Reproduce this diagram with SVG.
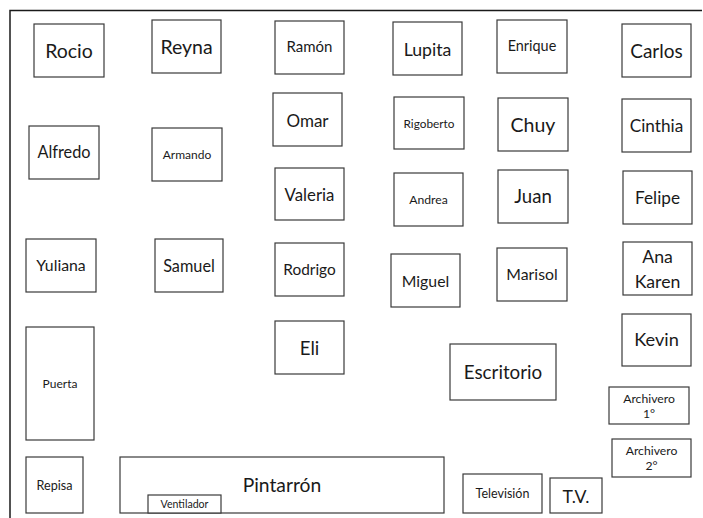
<svg xmlns="http://www.w3.org/2000/svg" width="703" height="518" viewBox="0 0 703 518">
<style>
rect.b{fill:#fff;stroke:#3a3a3a;stroke-width:1.2}
text{font-family:Lato,"Open Sans","Liberation Sans",sans-serif;fill:#1a1a1a;text-anchor:middle}
.frame{fill:none;stroke:#1a1a1a;stroke-width:1.5}
</style>
<rect width="703" height="518" fill="#fff"/>
<g id="frame"><path class="frame" d="M10,518 V10.5 H702"/></g>
<g id="connectors"></g>
<g id="rocio"><rect class="b" x="34" y="24" width="70" height="53"/><text x="69" y="57.5" font-size="19.5">Rocio</text></g>
<g id="reyna"><rect class="b" x="152" y="20" width="69" height="53"/><text x="186.5" y="53.5" font-size="19.5">Reyna</text></g>
<g id="ramon"><rect class="b" x="275" y="21" width="69" height="53"/><text x="309.5" y="51.7" font-size="15">Ramón</text></g>
<g id="lupita"><rect class="b" x="393" y="22" width="69" height="53"/><text x="427.5" y="56" font-size="17.7">Lupita</text></g>
<g id="enrique"><rect class="b" x="497" y="20" width="70" height="53"/><text x="532" y="51.3" font-size="14.4">Enrique</text></g>
<g id="carlos"><rect class="b" x="622" y="24" width="69" height="53"/><text x="656.5" y="57.7" font-size="19">Carlos</text></g>
<g id="alfredo"><rect class="b" x="29" y="126" width="70" height="53"/><text x="64" y="157.7" font-size="16.3">Alfredo</text></g>
<g id="armando"><rect class="b" x="152" y="128" width="70" height="53"/><text x="187" y="159.3" font-size="12">Armando</text></g>
<g id="omar"><rect class="b" x="273" y="93" width="69" height="53"/><text x="307.5" y="126.7" font-size="17">Omar</text></g>
<g id="rigoberto"><rect class="b" x="394" y="97" width="70" height="52"/><text x="429" y="127.7" font-size="11.8">Rigoberto</text></g>
<g id="chuy"><rect class="b" x="498" y="98" width="70" height="53"/><text x="533" y="132.3" font-size="19.5">Chuy</text></g>
<g id="cinthia"><rect class="b" x="622" y="99" width="69" height="53"/><text x="656.5" y="132.3" font-size="17.2">Cinthia</text></g>
<g id="valeria"><rect class="b" x="275" y="168" width="69" height="52"/><text x="309.5" y="200.7" font-size="16.8">Valeria</text></g>
<g id="andrea"><rect class="b" x="394" y="173" width="69" height="53"/><text x="428.5" y="204" font-size="12.2">Andrea</text></g>
<g id="juan"><rect class="b" x="498" y="170" width="70" height="53"/><text x="533" y="203.3" font-size="18.6">Juan</text></g>
<g id="felipe"><rect class="b" x="623" y="171" width="69" height="53"/><text x="657.5" y="204.3" font-size="17.2">Felipe</text></g>
<g id="yuliana"><rect class="b" x="26" y="239" width="70" height="53"/><text x="61" y="271.3" font-size="15.8">Yuliana</text></g>
<g id="samuel"><rect class="b" x="155" y="239" width="68" height="53"/><text x="189" y="271.7" font-size="16.3">Samuel</text></g>
<g id="rodrigo"><rect class="b" x="275" y="243" width="69" height="53"/><text x="309.5" y="274.7" font-size="15.4">Rodrigo</text></g>
<g id="miguel"><rect class="b" x="391" y="254" width="69" height="53"/><text x="425.5" y="286.7" font-size="15.8">Miguel</text></g>
<g id="marisol"><rect class="b" x="497" y="248" width="70" height="53"/><text x="532" y="280" font-size="15.8">Marisol</text></g>
<g id="anakaren"><rect class="b" x="623" y="242" width="69" height="53"/><text x="657.5" y="263.3" font-size="17.7">Ana</text><text x="657.5" y="288.3" font-size="17.7">Karen</text></g>
<g id="eli"><rect class="b" x="275" y="321" width="69" height="53"/><text x="309.5" y="354.7" font-size="18.6">Eli</text></g>
<g id="kevin"><rect class="b" x="622" y="314" width="69" height="52"/><text x="656.5" y="346.3" font-size="18.2">Kevin</text></g>
<g id="puerta"><rect class="b" x="26" y="327" width="68" height="113"/><text x="60" y="387.7" font-size="12">Puerta</text></g>
<g id="escritorio"><rect class="b" x="450" y="344" width="106" height="56"/><text x="503" y="379" font-size="18.8">Escritorio</text></g>
<g id="archivero1"><rect class="b" x="609" y="387" width="80" height="37"/><text x="649" y="403" font-size="12.2">Archivero</text><text x="649" y="418" font-size="12.2">1°</text></g>
<g id="archivero2"><rect class="b" x="612" y="439" width="79" height="38"/><text x="651.5" y="455" font-size="12.2">Archivero</text><text x="651.5" y="470" font-size="12.2">2°</text></g>
<g id="repisa"><rect class="b" x="26" y="457" width="57" height="56"/><text x="54.5" y="490" font-size="12.6">Repisa</text></g>
<g id="pintarron"><rect class="b" x="120" y="457" width="324" height="56"/><text x="282" y="491.7" font-size="19.3">Pintarrón</text></g>
<g id="ventilador"><rect class="b" x="148" y="495" width="73" height="18"/><text x="184.5" y="507.8" font-size="10.6">Ventilador</text></g>
<g id="television"><rect class="b" x="463" y="474" width="79" height="39"/><text x="502.5" y="498" font-size="12.5">Televisión</text></g>
<g id="tv"><rect class="b" x="550" y="478" width="52" height="35"/><text x="576" y="503" font-size="17.7">T.V.</text></g>
</svg>
